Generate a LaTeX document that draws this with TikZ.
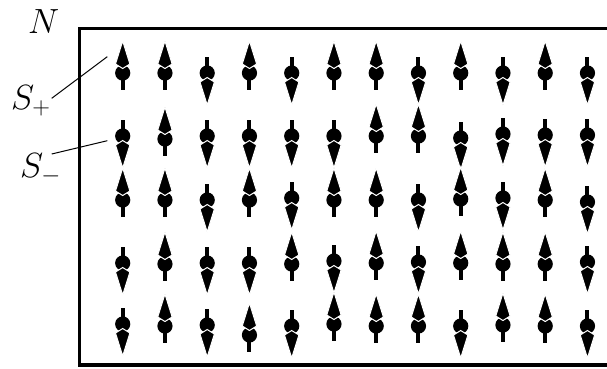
\documentclass[tikz,border=0pt]{standalone}
\usepackage{fix-cm}
\tikzset{
  spin/.pic={
    \draw[line width=4pt] (0,0) -- (0,16.5);
    \fill (0,0) circle[radius=7.6pt];
    \filldraw[fill=black,draw=white,line width=1pt,line join=miter]
      (0,-32) -- (7.2,-9) -- (0,-4.5) -- (-7.2,-9) -- cycle;
  },
  lbl/.style={font=\fontsize{35}{42}\selectfont, anchor=base west, inner sep=0pt},
  leader/.style={line width=1pt}
}
\begin{document}
\begin{tikzpicture}[x=1pt,y=-1pt]
\useasboundingbox (0,0) rectangle (607,368);
\clip (0,0) rectangle (607,368);
\draw[line width=3.5pt] (79.3,28.3) rectangle (650,365);
% row 1
\foreach \s/\dy [count=\i from 0] in {1/0,1/0,-1/0,1/0,-1/0,1/0,1/0,-1/0,1/0,-1/0,1/0,-1/0}
  \pic[yscale=\s] at ({122.7+42.25*\i},{73+\dy}) {spin};
% row 2
\foreach \s/\dy [count=\i from 0] in {-1/0,1/3,-1/0,-1/0,-1/0,-1/0,1/0,1/0,-1/2,-1/-2,-1/-1,-1/-1}
  \pic[yscale=\s] at ({122.7+42.25*\i},{136+\dy}) {spin};
% row 3
\foreach \s/\dy [count=\i from 0] in {1/0,1/0,-1/0,1/0,-1/-2,1/0,1/0,-1/0,1/-1,-1/-2,1/0,-1/2}
  \pic[yscale=\s] at ({122.7+42.25*\i},{200+\dy}) {spin};
% row 4
\foreach \s/\dy [count=\i from 0] in {-1/0,1/1,-1/0,-1/0,1/1,-1/-2,1/0,-1/-1,1/0,1/1,1/1,-1/-1}
  \pic[yscale=\s] at ({122.7+42.25*\i},{263+\dy}) {spin};
% row 5
\foreach \s/\dy [count=\i from 0] in {-1/-1,1/1,-1/0,1/10,-1/1,1/-1,1/1,1/1,-1/1,1/0,1/1,-1/1}
  \pic[yscale=\s] at ({122.7+42.25*\i},{325+\dy}) {spin};
% labels
\node[lbl] (N) at (28,33) {$N$};
\node[lbl] (Splus) at (11,109) {$S_+$};
\node[lbl] (Sminus) at (20,177) {$S_-$};
\coordinate (ps) at (51.7,98.3);
\coordinate (pe) at (107.3,56.7);
\coordinate (ms) at (51.7,154);
\coordinate (me) at (107.3,140.7);
\draw[leader] (ps) -- (pe);
\draw[leader] (ms) -- (me);
\end{tikzpicture}
\end{document}
